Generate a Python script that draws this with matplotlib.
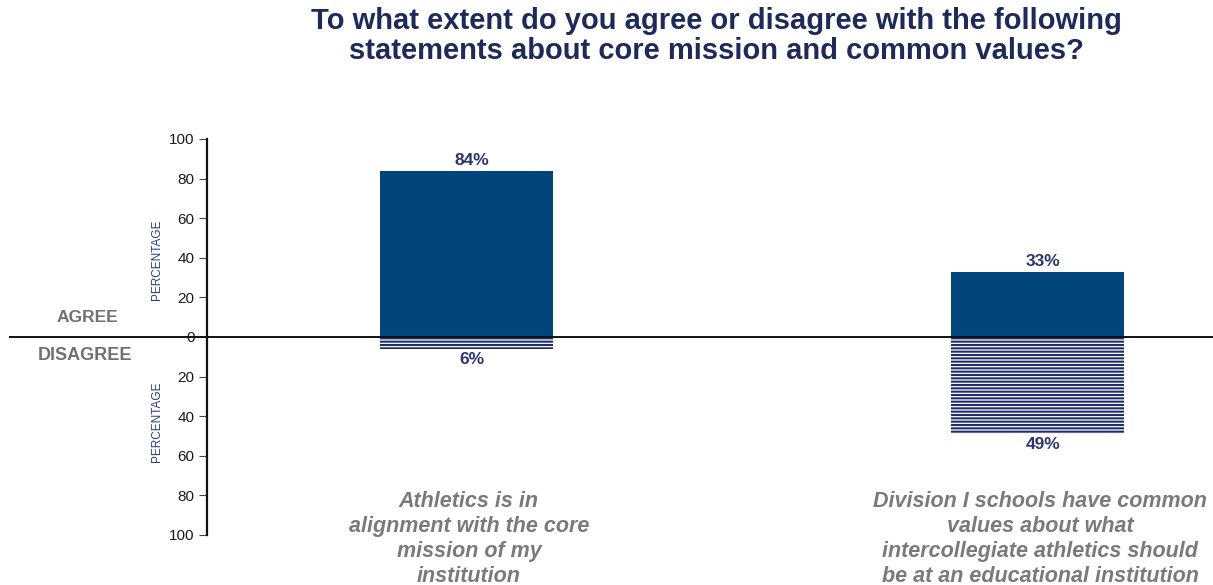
import matplotlib
matplotlib.use("Agg")
import matplotlib.pyplot as plt
from matplotlib.ticker import FixedLocator

plt.rcParams["font.family"] = ["Liberation Sans", "DejaVu Sans"]
plt.rcParams["hatch.linewidth"] = 1.5

# data
categories = ["Athletics is in\nalignment with the core\nmission of my\ninstitution",
              "Division I schools have common\nvalues about what\nintercollegiate athletics should\nbe at an educational institution"]
agree = [84, 33]
disagree = [6, 49]
yticks = [-100, -80, -60, -40, -20, 0, 20, 40, 60, 80, 100]

NAVY = "#1f2a5c"
BAR = "#00457c"
HATCH = "#1f2d6b"
GREY = "#7a7a7a"

W, H = 1213, 585
fig = plt.figure(figsize=(W / 100, H / 100), dpi=100)
ax = fig.add_axes([207 / W, 1 - 535 / H, (W - 207) / W, (535 - 139) / H])

x = list(range(len(categories)))
ax.bar(x, agree, width=0.303, color=BAR, linewidth=0, zorder=2)
ax.bar(x, [-d for d in disagree], width=0.303, facecolor="white",
       edgecolor=HATCH, hatch="-----", linewidth=0, zorder=2)

ax.set_xlim(-0.4536, 1.308)
ax.set_ylim(-100, 100)

for s in ("top", "right", "bottom"):
    ax.spines[s].set_visible(False)
ax.spines["left"].set_linewidth(1.6)
ax.spines["left"].set_color("#111111")
ax.set_xticks([])
ax.yaxis.set_major_locator(FixedLocator(yticks))
ax.set_yticklabels([str(abs(v)) for v in yticks])
ax.tick_params(axis="y", length=6, width=0.8, color="#444444", labelsize=11,
               labelcolor="#1a1a1a", pad=3)

# zero line running past the axis to the left
ax.axhline(0, xmin=-197 / 1006, xmax=1, color="#111111", lw=1.4, clip_on=False, zorder=3)

# value labels
for i, (a, d) in enumerate(zip(agree, disagree)):
    ax.text(i + 0.01, a + 1.3, f"{a}%", ha="center", va="bottom", fontsize=12.5,
            fontweight="bold", color="#2b3670", zorder=4)
    ax.text(i + 0.01, -d - 1.5, f"{d}%", ha="center", va="top", fontsize=12.5,
            fontweight="bold", color="#2b3670", zorder=4)

# category labels
for i, c in enumerate(categories):
    ax.text(i + 0.005, 0.11, c, transform=ax.get_xaxis_transform(), ha="center",
            va="top", fontsize=15.5, fontstyle="italic", fontweight="bold",
            color=GREY, linespacing=1.24)

# side labels
fig.text(87 / W, 1 - 318 / H, "AGREE", ha="center", va="center", fontsize=12.5,
         fontweight="bold", color="#707070")
fig.text(85 / W, 1 - 355 / H, "DISAGREE", ha="center", va="center", fontsize=13,
         fontweight="bold", color="#707070")
for yc in (260, 422):
    fig.text(157 / W, 1 - yc / H, "PERCENTAGE", ha="center", va="center",
             rotation=90, fontsize=8.5, color="#2b3a8a")

fig.text(716 / W, 1 - 36 / H,
         "To what extent do you agree or disagree with the following\n"
         "statements about core mission and common values?",
         ha="center", va="center", fontsize=21, fontweight="bold", color=NAVY,
         linespacing=1.1)

fig.savefig("out.png", dpi=100, facecolor="white")
